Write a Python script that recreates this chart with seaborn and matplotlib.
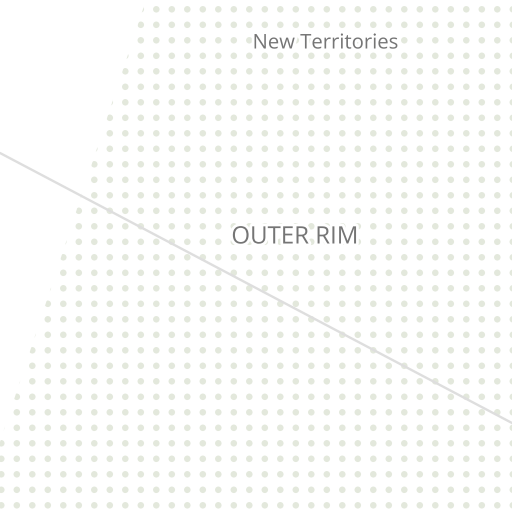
import numpy as np
import pandas as pd
import matplotlib
matplotlib.use("Agg")
import matplotlib.pyplot as plt
import matplotlib.patheffects as pe
from matplotlib.patches import Polygon
import seaborn as sns

sns.set_theme(style="white")
plt.rcParams['font.family'] = ['Open Sans', 'DejaVu Sans']

# region outline (pixel coords, y down)
region_x = [146, 512, 512, 0, 0]
region_y = [0, 0, 512, 512, 442]
# boundary line
line_x = [0, 512]
line_y = [153, 423]
# labels
label_text = ["New Territories", "OUTER RIM"]
label_x = [325.5, 295]
label_y = [43.5, 237.5]
label_size = [14.6, 17.3]

# dot pattern grid
gx, gy = np.meshgrid(np.arange(1.3, 520, 15.5), np.arange(9.3, 520, 15.5))
dots = pd.DataFrame({"x": gx.ravel(), "y": gy.ravel()})

fig = plt.figure(figsize=(5.12, 5.12), dpi=100)
ax = fig.add_axes([0, 0, 1, 1])
ax.set_xlim(0, 512)
ax.set_ylim(512, 0)
ax.axis("off")

poly = Polygon(np.column_stack([region_x, region_y]), closed=True,
               facecolor="none", edgecolor="none", transform=ax.transData)
ax.add_patch(poly)
sns.scatterplot(data=dots, x="x", y="y", ax=ax, s=22, color="#e3e8dc",
                edgecolor="none", linewidth=0, legend=False)
for coll in ax.collections:
    coll.set_clip_path(poly)

sns.lineplot(x=line_x, y=line_y, ax=ax, color="#dedede", linewidth=1.7,
             estimator=None, sort=False)

for t, x, y, s in zip(label_text, label_x, label_y, label_size):
    ax.text(x, y, t, ha="center", va="center", fontsize=s, color="#757575",
            path_effects=[pe.withStroke(linewidth=4, foreground="white")])

ax.set_xlim(0, 512)
ax.set_ylim(512, 0)
ax.set_xlabel("")
ax.set_ylabel("")
fig.savefig("out.png", dpi=100)
